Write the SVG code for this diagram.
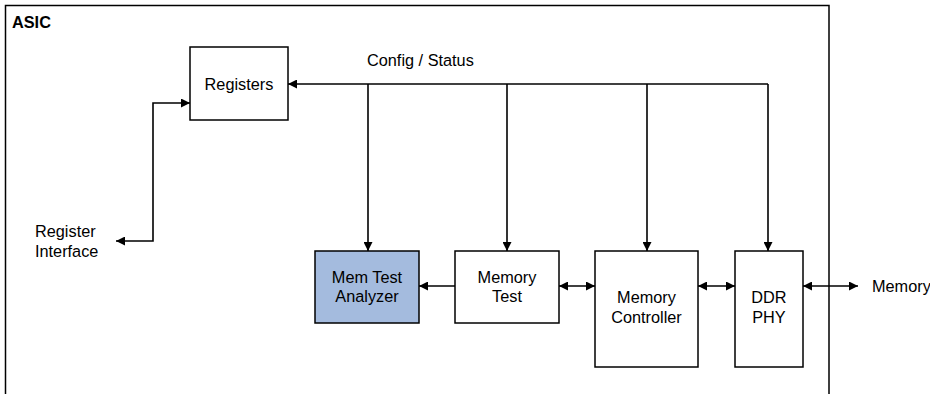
<svg xmlns="http://www.w3.org/2000/svg" width="930" height="394" viewBox="0 0 930 394">
<style>
.box{fill:#fff;stroke:#000;stroke-width:1.5}
.hl{fill:#A4BBDE}
.t{font-family:"Liberation Sans",Arial,sans-serif;font-size:16.3px;fill:#000}
.c{text-anchor:middle}
.ln{fill:none;stroke:#000;stroke-width:1.6}
</style>
<defs>
<marker id="ah" viewBox="0 0 10 10" refX="10" refY="5" markerWidth="11" markerHeight="9" markerUnits="userSpaceOnUse" orient="auto-start-reverse">
<path d="M0,0 L10,5 L0,10 z" fill="#000"/>
</marker>
</defs>
<rect width="930" height="394" fill="#fff"/>
<g id="asic">
<path d="M5.5,400 V5.5 H829 V400" fill="none" stroke="#000" stroke-width="1.5"/>
<text x="12" y="28" class="t" font-weight="bold" font-size="15.5px">ASIC</text>
</g>
<g id="registers">
<rect x="190" y="47" width="98" height="73" class="box"/>
<text x="239" y="90" class="t c">Registers</text>
</g>
<g id="analyzer">
<rect x="315" y="251" width="104" height="72" class="box hl"/>
<text x="367" y="283" class="t c">Mem Test</text>
<text x="367" y="302" class="t c">Analyzer</text>
</g>
<g id="memtest">
<rect x="455" y="251" width="104" height="72" class="box"/>
<text x="507" y="283" class="t c">Memory</text>
<text x="507" y="302" class="t c">Test</text>
</g>
<g id="controller">
<rect x="595" y="251" width="103" height="116" class="box"/>
<text x="646.5" y="303" class="t c">Memory</text>
<text x="646.5" y="323" class="t c">Controller</text>
</g>
<g id="phy">
<rect x="735" y="251" width="68" height="116" class="box"/>
<text x="769" y="303" class="t c">DDR</text>
<text x="769" y="323" class="t c">PHY</text>
</g>
<g id="labels">
<text x="367" y="66" class="t">Config / Status</text>
<text x="35" y="237" class="t">Register</text>
<text x="35" y="257" class="t">Interface</text>
<text x="872" y="292" class="t">Memory</text>
</g>
<g id="connectors">
<path d="M768,84 H288" class="ln" marker-end="url(#ah)"/>
<path d="M368,84 V251" class="ln" marker-end="url(#ah)"/>
<path d="M507,84 V251" class="ln" marker-end="url(#ah)"/>
<path d="M647,84 V251" class="ln" marker-end="url(#ah)"/>
<path d="M768,84 V251" class="ln" marker-end="url(#ah)"/>
<path d="M116,241 H153 V103 H190" class="ln" marker-start="url(#ah)" marker-end="url(#ah)"/>
<path d="M455,286 H419" class="ln" marker-end="url(#ah)"/>
<path d="M559,286 H595" class="ln" marker-start="url(#ah)" marker-end="url(#ah)"/>
<path d="M698,286 H735" class="ln" marker-start="url(#ah)" marker-end="url(#ah)"/>
<path d="M803,286 H858" class="ln" marker-start="url(#ah)" marker-end="url(#ah)"/>
</g>
</svg>
